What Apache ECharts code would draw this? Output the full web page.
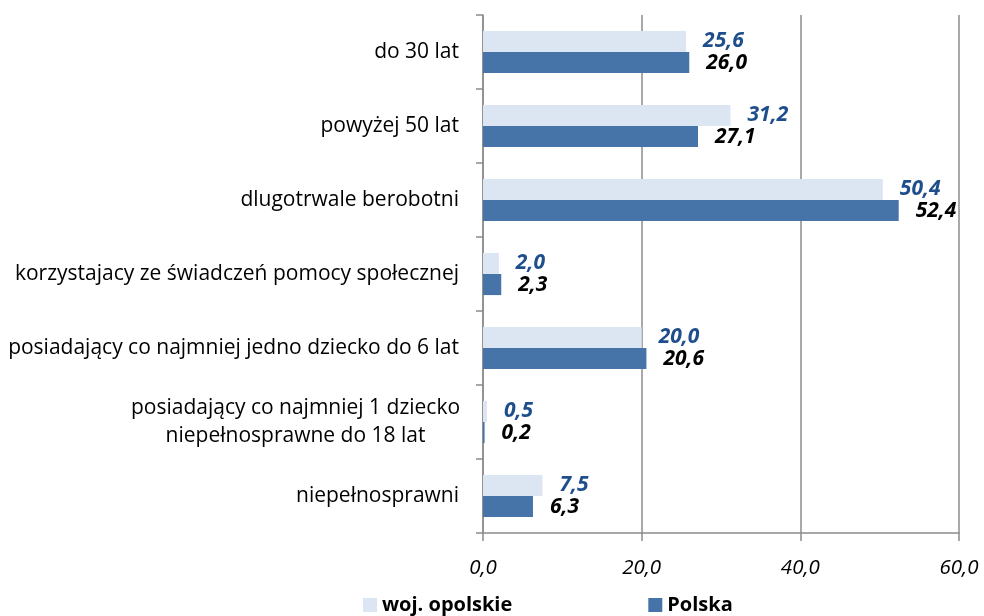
<!DOCTYPE html>
<html><head><meta charset="utf-8">
<script src="https://cdn.jsdelivr.net/npm/echarts@6/dist/echarts.min.js"></script>
<style>html,body{margin:0;padding:0;background:#fff}#c{width:984px;height:616px}</style>
</head><body><div id="c"></div>
<script>
const categories = [
  'do 30 lat',
  'powyżej 50 lat',
  'dlugotrwale berobotni',
  'korzystajacy ze świadczeń pomocy społecznej',
  'posiadający co najmniej jedno dziecko do 6 lat',
  'posiadający co najmniej 1 dziecko\nniepełnosprawne do 18 lat',
  'niepełnosprawni'
];
const opolskie = [25.6, 31.2, 50.4, 2.0, 20.0, 0.5, 7.5];
const polska = [26.0, 27.1, 52.4, 2.3, 20.6, 0.2, 6.3];
const xTicks = [0, 20, 40, 60];
const seriesNames = ['woj. opolskie', 'Polska'];

const FONT = '"Open Sans", sans-serif';
const fmt = v => v.toFixed(1).replace('.', ',');
const catData = categories.map(c => c.indexOf('\n') >= 0
  ? {value: c, textStyle: {align: 'center', padding: [0, 327, 0, 0]}}
  : c);
const chart = echarts.init(document.getElementById('c'), null, {renderer: 'canvas'});
chart.setOption({
  animation: false,
  textStyle: {fontFamily: FONT},
  grid: {left: 483, right: 25, top: 15, bottom: 83, containLabel: false},
  legend: {
    bottom: -4, left: 358, itemWidth: 14, itemHeight: 14, itemGap: 136,
    icon: 'rect',
    textStyle: {fontFamily: FONT, fontSize: 20, fontWeight: 'bold', color: '#000'},
    data: seriesNames
  },
  xAxis: {
    type: 'value', min: xTicks[0], max: xTicks[xTicks.length - 1], interval: 20,
    axisLine: {show: true, lineStyle: {color: '#8c8c8c', width: 1.5}},
    axisTick: {show: true, length: 8, lineStyle: {color: '#8c8c8c', width: 1.5}},
    splitLine: {show: true, lineStyle: {color: '#8c8c8c', width: 1.5}},
    axisLabel: {margin: 25, fontFamily: FONT, fontSize: 20.5, fontStyle: 'italic', color: '#000', formatter: v => fmt(v)}
  },
  yAxis: {
    type: 'category', inverse: true, data: catData,
    axisLine: {show: true, lineStyle: {color: '#8c8c8c', width: 1.5}},
    axisTick: {show: true, length: 7, lineStyle: {color: '#8c8c8c', width: 1.5}},
    axisLabel: {margin: 24, fontFamily: FONT, fontSize: 21, color: '#000', align: 'right', lineHeight: 28}
  },
  series: [
    {
      name: seriesNames[0], type: 'bar', data: opolskie, barGap: '0%', barCategoryGap: '43%',
      itemStyle: {color: '#dce6f2'},
      label: {show: true, position: 'right', distance: 17, formatter: p => fmt(p.value),
        fontFamily: FONT, fontSize: 21, fontStyle: 'italic', fontWeight: 'bold', color: '#1f4e8c'}
    },
    {
      name: seriesNames[1], type: 'bar', data: polska,
      itemStyle: {color: '#4674a8'},
      label: {show: true, position: 'right', distance: 17, formatter: p => fmt(p.value),
        fontFamily: FONT, fontSize: 21, fontStyle: 'italic', fontWeight: 'bold', color: '#000'}
    }
  ]
});
</script></body></html>
